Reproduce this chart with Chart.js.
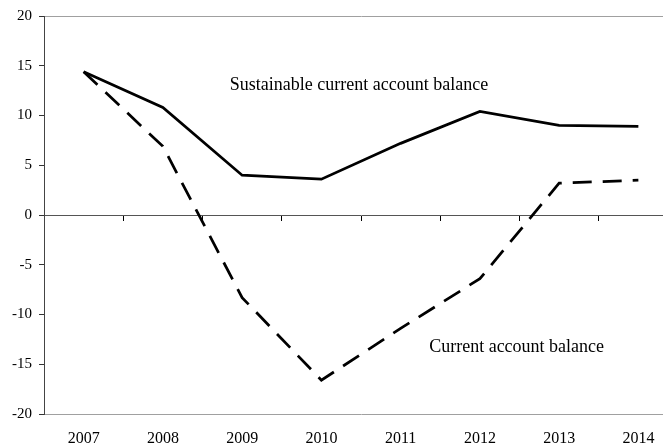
<!DOCTYPE html>
<html>
<head>
<meta charset="utf-8">
<title>Current account balance</title>
<script src="https://cdn.jsdelivr.net/npm/chart.js@4.4.1/dist/chart.umd.min.js"></script>
<style>
  html, body { margin: 0; padding: 0; background: #fff; overflow: hidden; }
  #wrap { width: 663px; height: 446px; overflow: hidden; }
</style>
</head>
<body>
<div id="wrap"><canvas id="chart" width="680" height="446"></canvas></div>
<script>
// values
let years = ["2007", "2008", "2009", "2010", "2011", "2012", "2013", "2014"];
let sustainable = [14.4, 10.8, 4.0, 3.6, 7.2, 10.4, 9.0, 8.9]; // solid line
let current = [14.4, 6.9, -8.3, -16.6, -11.4, -6.4, 3.2, 3.5]; // dashed line
let yTicks = [-20, -15, -10, -5, 0, 5, 10, 15, 20];

// in-chart labels (category index, y value)
let notes = [
    { text: "Sustainable current account balance", x: 1.845, y: 13 },
    { text: "Current account balance", x: 4.36, y: -13.3 }
];

const serif = '"Liberation Serif", "Times New Roman", serif';

// draws the two line names inside the plot
let notePlugin = {
    id: "notes",
    afterDatasetsDraw(chart) {
        let ctx = chart.ctx;
        let xs = chart.scales.x;
        let ys = chart.scales.y;
        ctx.save();
        ctx.font = "18px " + serif;
        ctx.fillStyle = "#000";
        ctx.textAlign = "left";
        ctx.textBaseline = "middle";
        notes.forEach(n => {
            ctx.fillText(n.text, xs.getPixelForValue(n.x), ys.getPixelForValue(n.y));
        });
        ctx.restore();
    }
};

let context = document.getElementById("chart").getContext("2d");

new Chart(context, {
    type: "line",
    data: {
        labels: years,
        datasets: [
            {
                label: "Sustainable current account balance",
                data: sustainable,
                borderColor: "#000",
                borderWidth: 2.75,
                pointRadius: 0,
                tension: 0,
                fill: false
            },
            {
                label: "Current account balance",
                data: current,
                borderColor: "#000",
                borderWidth: 2.75,
                borderDash: [19, 11],
                pointRadius: 0,
                tension: 0,
                fill: false
            }
        ]
    },
    options: {
        responsive: false,
        animation: false,
        devicePixelRatio: 1,
        layout: { padding: { top: 15, right: 2, left: 0, bottom: 0 } },
        plugins: {
            legend: { display: false },
            tooltip: { enabled: false }
        },
        scales: {
            x: {
                type: "category",
                position: "bottom",
                offset: true,
                grid: { display: false, drawTicks: false },
                border: { display: false },
                ticks: {
                    color: "#000",
                    font: { family: serif, size: 16 },
                    padding: 15,
                    maxRotation: 0,
                    autoSkip: false
                },
                afterFit: s => { s.height = 32; }
            },
            x2: {
                type: "category",
                axis: "x",
                position: { y: 0 },
                offset: true,
                grid: {
                    drawOnChartArea: false,
                    drawTicks: true,
                    tickLength: 5,
                    color: "#000",
                    offset: true
                },
                border: { color: "#555", width: 1 },
                ticks: { display: false }
            },
            y: {
                min: -20,
                max: 20,
                afterBuildTicks: s => { s.ticks = yTicks.map(v => ({ value: v })); },
                grid: {
                    color: c => (c.tick && Math.abs(c.tick.value) === 20) ? "#a0a0a0" : "rgba(0,0,0,0)",
                    tickColor: "#333",
                    tickLength: 5
                },
                border: { color: "#444", width: 1 },
                ticks: {
                    color: "#000",
                    font: { family: serif, size: 15 },
                    padding: 7
                },
                afterFit: s => { s.width = 44; }
            }
        }
    },
    plugins: [notePlugin]
});
</script>
</body>
</html>
